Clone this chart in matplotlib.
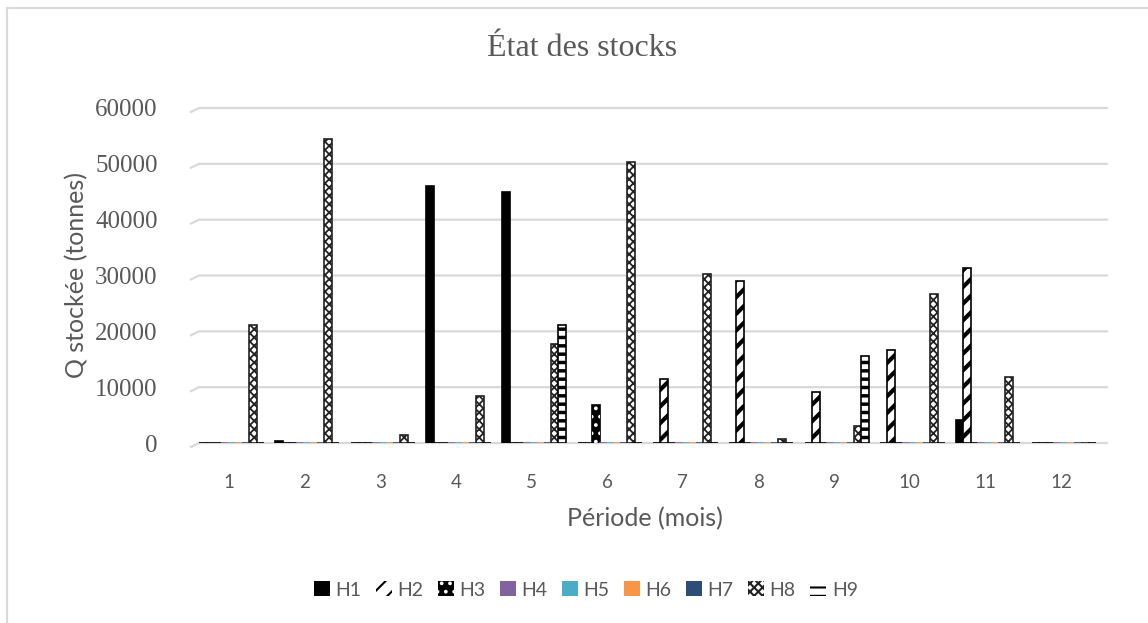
import numpy as np
import matplotlib.pyplot as plt
from matplotlib.patches import Patch

# stock levels per month (tonnes), one list per warehouse
periods = [1, 2, 3, 4, 5, 6, 7, 8, 9, 10, 11, 12]
H1 = [0, 300, 0, 46100, 45000, 0, 0, 0, 0, 0, 4100, 0]
H2 = [0, 0, 0, 0, 0, 0, 11400, 29100, 9100, 16700, 31300, 0]
H3 = [0, 0, 0, 0, 0, 6800, 0, 0, 0, 0, 0, 0]
H4 = [0, 0, 0, 0, 0, 0, 0, 0, 0, 0, 0, 0]
H5 = [0, 0, 0, 0, 0, 0, 0, 0, 0, 0, 0, 0]
H6 = [0, 0, 0, 0, 0, 0, 0, 0, 0, 0, 0, 0]
H7 = [0, 0, 0, 0, 0, 0, 0, 0, 0, 0, 0, 0]
H8 = [21100, 54400, 1500, 8400, 17800, 50400, 30300, 700, 3000, 26600, 11900, 0]
H9 = [0, 0, 0, 0, 21100, 0, 0, 0, 15600, 0, 0, 0]
series_names = ['H1', 'H2', 'H3', 'H4', 'H5', 'H6', 'H7', 'H8', 'H9']
yticks = [0, 10000, 20000, 30000, 40000, 50000, 60000]

grey_txt = '#595959'
grid_col = '#D9D9D9'

# (face, edge, hatch, hatch width)
styles = [
    ('black', 'black', None, 1.0),
    ('white', 'black', '//', 3.0),
    ('black', 'white', '..', 1.5),
    ('#8064A2', '#8064A2', None, 1.0),
    ('#4BACC6', '#4BACC6', None, 1.0),
    ('#F79646', '#F79646', None, 1.0),
    ('#2C4D75', '#2C4D75', None, 1.0),
    ('white', '#222222', 'xxxx', 1.3),
    ('white', 'black', '--', 2.5),
]

W, H = 1148, 623
fig = plt.figure(figsize=(W / 100, H / 100), dpi=100)
ax = fig.add_axes([191 / W, 1 - 443 / H, 908 / W, 335 / H])

x = np.array(periods, dtype=float)
step = 0.093
bw = 0.105
shift = 0.036
data = [H1, H2, H3, H4, H5, H6, H7, H8, H9]


def draw_bar(pos, vals, face, edge, hatch, hlw, lw):
    bars = ax.bar(pos, vals, bw, color=face, edgecolor=edge, hatch=hatch,
                  linewidth=lw, zorder=3)
    for b in bars:
        if hasattr(b, 'set_hatch_linewidth'):
            b.set_hatch_linewidth(hlw)
    return bars


plt.rcParams['hatch.linewidth'] = 1.5
for i, (vals, (face, edge, hatch, hlw)) in enumerate(zip(data, styles)):
    pos = x + (i - 4) * step + shift
    if series_names[i] == 'H3':
        # black bar with white dots on top
        draw_bar(pos, vals, 'black', 'black', None, 1.0, 1.2)
        draw_bar(pos, vals, 'none', 'white', hatch, hlw, 0)
    else:
        draw_bar(pos, vals, face, edge, hatch, hlw, 1.2)

ax.set_xlim(0.5, 12.5)
ax.set_ylim(0, 60000)

# floor-style gridlines with a short slanted lead-in
tr = ax.get_yaxis_transform()
for yv in yticks:
    ax.plot([0.0, 0.0088, 1.0088], [yv - 700, yv, yv], transform=tr,
            color=grid_col, lw=1.6, clip_on=False, zorder=1)

for s in ax.spines.values():
    s.set_visible(False)
ax.tick_params(length=0)
ax.set_yticks(yticks)
ax.set_yticklabels([str(v) for v in yticks], family='Liberation Serif',
                   fontsize=18, color=grey_txt)
ax.tick_params(axis='y', pad=24)
ax.set_xticks(periods)
ax.set_xticklabels([str(p) for p in periods], family='Lato', fontsize=13.5,
                   color=grey_txt)
ax.tick_params(axis='x', pad=22)

ax.set_ylabel('Q stockée (tonnes)', family='Lato', fontsize=18, color=grey_txt)
ax.yaxis.set_label_coords(-0.113, 0.5)
ax.set_xlabel('Période (mois)', family='Lato', fontsize=18, color=grey_txt)
ax.xaxis.set_label_coords(0.5, -0.19)

fig.text(582 / W, 1 - 48 / H, 'État des stocks', family='Liberation Serif',
         fontsize=23, color=grey_txt, ha='center', va='center')

handles = []
for (face, edge, hatch, hlw) in styles:
    handles.append(Patch(facecolor=face, edgecolor=edge, hatch=hatch,
                         linewidth=0))
leg = fig.legend(handles, series_names, loc='center', ncol=9,
                 bbox_to_anchor=(586 / W, 1 - 590 / H), frameon=False,
                 prop={'family': 'Lato', 'size': 14}, handlelength=0.8,
                 handleheight=0.8, handletextpad=0.3, columnspacing=0.75)
for t in leg.get_texts():
    t.set_color(grey_txt)

# chart frame: only top and left edges fall inside the image
fig.add_artist(plt.Line2D([7 / W, 1], [1 - 8 / H, 1 - 8 / H], color=grid_col,
                          lw=1.5, transform=fig.transFigure))
fig.add_artist(plt.Line2D([7 / W, 7 / W], [0, 1 - 8 / H], color=grid_col,
                          lw=1.5, transform=fig.transFigure))

fig.savefig('out.png', dpi=100)
